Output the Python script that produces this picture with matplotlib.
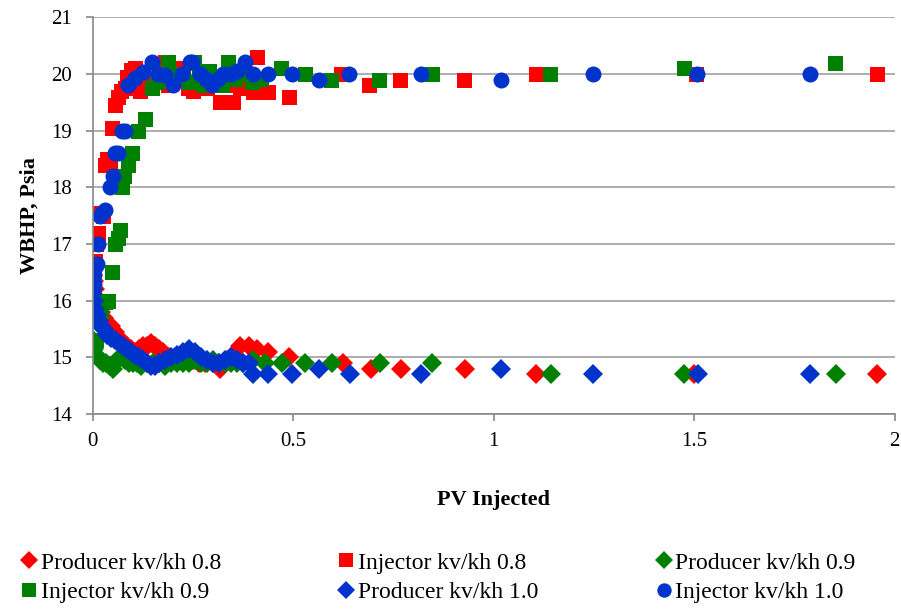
import matplotlib.pyplot as plt
from matplotlib.ticker import FuncFormatter

# PV injected / WBHP (psia)
prod08_x = [0.0, 0.003, 0.006, 0.01, 0.015, 0.02, 0.027, 0.035, 0.045, 0.055, 0.065, 0.075, 0.085, 0.095,
            0.105, 0.115, 0.125, 0.135, 0.145, 0.155, 0.165, 0.175, 0.19, 0.205, 0.22, 0.235, 0.25, 0.265,
            0.28, 0.3, 0.317, 0.335, 0.35, 0.367, 0.39, 0.41, 0.437, 0.49, 0.623, 0.693, 0.768, 0.928,
            1.105, 1.5, 1.955]
prod08_y = [16.45, 16.35, 16.2, 16.05, 15.9, 15.8, 15.7, 15.6, 15.55, 15.45, 15.35, 15.25, 15.2, 15.15,
            15.1, 15.15, 15.2, 15.2, 15.25, 15.2, 15.15, 15.1, 15.0, 15.0, 15.0, 14.95, 14.95, 14.9,
            14.9, 14.9, 14.8, 14.95, 15.05, 15.2, 15.2, 15.15, 15.1, 15.0, 14.9, 14.8, 14.8, 14.8,
            14.7, 14.7, 14.7]

inj08_x = [0.0, 0.002, 0.005, 0.008, 0.012, 0.018, 0.025, 0.03, 0.036, 0.042, 0.047, 0.055, 0.062, 0.07,
           0.08, 0.085, 0.095, 0.105, 0.117, 0.13, 0.15, 0.165, 0.18, 0.187, 0.2, 0.215, 0.237, 0.25,
           0.265, 0.284, 0.3, 0.317, 0.335, 0.349, 0.367, 0.385, 0.4, 0.41, 0.437, 0.49, 0.62, 0.69,
           0.766, 0.925, 1.105, 1.504, 1.955]
inj08_y = [16.4, 16.55, 16.7, 17.0, 17.2, 17.55, 17.5, 18.4, 18.5, 18.45, 19.05, 19.45, 19.6, 19.7,
           19.75, 19.95, 20.07, 20.1, 19.7, 19.8, 19.9, 20.1, 20.2, 19.8, 20.0, 20.1, 19.75, 19.7,
           19.9, 19.75, 19.9, 19.5, 19.8, 19.5, 19.75, 19.9, 19.68, 20.3, 19.68, 19.6, 20.0, 19.8,
           19.89, 19.89, 20.0, 20.0, 20.0]

prod09_x = [0.0, 0.004, 0.008, 0.013, 0.018, 0.025, 0.033, 0.042, 0.05, 0.06, 0.07, 0.08, 0.09, 0.1,
            0.11, 0.12, 0.135, 0.15, 0.165, 0.18, 0.195, 0.21, 0.225, 0.24, 0.255, 0.27, 0.285, 0.3,
            0.315, 0.33, 0.345, 0.36, 0.375, 0.4, 0.43, 0.473, 0.53, 0.597, 0.716, 0.846, 1.142,
            1.474, 1.853]
prod09_y = [15.3, 15.15, 15.05, 15.0, 14.95, 14.9, 14.9, 14.85, 14.8, 14.95, 15.0, 14.95, 14.9, 14.9,
            14.9, 14.85, 14.9, 14.9, 14.9, 14.85, 14.9, 14.9, 14.9, 14.9, 14.95, 14.9, 14.9, 14.95,
            14.9, 14.9, 14.9, 14.9, 14.9, 14.95, 14.9, 14.9, 14.9, 14.9, 14.9, 14.9, 14.7,
            14.7, 14.7]

inj09_x = [0.0, 0.003, 0.008, 0.012, 0.02, 0.03, 0.037, 0.047, 0.055, 0.062, 0.067, 0.072, 0.077, 0.087,
           0.097, 0.112, 0.13, 0.147, 0.16, 0.175, 0.187, 0.197, 0.21, 0.225, 0.24, 0.252, 0.265, 0.275,
           0.29, 0.31, 0.322, 0.337, 0.355, 0.37, 0.385, 0.397, 0.42, 0.47, 0.53, 0.595, 0.713, 0.845,
           1.14, 1.474, 1.85]
inj09_y = [15.15, 15.25, 15.3, 15.75, 15.8, 15.97, 16.0, 16.5, 17.0, 17.1, 17.25, 18.0, 18.2, 18.4,
           18.6, 19.0, 19.2, 19.75, 19.85, 20.0, 20.2, 19.9, 20.0, 19.95, 19.85, 20.2, 20.0, 19.8,
           20.05, 19.95, 19.8, 20.2, 19.9, 20.0, 20.0, 19.85, 19.9, 20.1, 20.0, 19.89, 19.89, 20.0,
           20.0, 20.1, 20.19]

prod10_x = [0.0, 0.003, 0.006, 0.01, 0.015, 0.02, 0.027, 0.035, 0.045, 0.055, 0.065, 0.075, 0.085, 0.095,
            0.105, 0.115, 0.125, 0.135, 0.145, 0.155, 0.165, 0.18, 0.195, 0.21, 0.225, 0.24, 0.255, 0.27,
            0.285, 0.3, 0.315, 0.33, 0.345, 0.36, 0.375, 0.39, 0.40, 0.437, 0.497, 0.564, 0.641, 0.818,
            1.018, 1.247, 1.51, 1.79]
prod10_y = [16.2, 16.0, 15.85, 15.75, 15.65, 15.55, 15.5, 15.4, 15.35, 15.3, 15.25, 15.2, 15.15, 15.1,
            15.05, 15.0, 14.95, 14.9, 14.85, 14.85, 14.9, 14.95, 15.0, 15.05, 15.1, 15.15, 15.1, 15.0,
            14.95, 14.9, 14.9, 14.95, 15.0, 14.95, 14.9, 14.9, 14.7, 14.7, 14.7, 14.8, 14.7, 14.7,
            14.8, 14.7, 14.7, 14.7]

inj10_x = [0.0, 0.002, 0.004, 0.006, 0.01, 0.012, 0.017, 0.022, 0.03, 0.042, 0.05, 0.056, 0.062, 0.072,
           0.08, 0.088, 0.105, 0.125, 0.147, 0.162, 0.18, 0.2, 0.222, 0.242, 0.247, 0.267, 0.282, 0.297,
           0.312, 0.325, 0.345, 0.36, 0.38, 0.4, 0.437, 0.497, 0.563, 0.64, 0.818, 1.017, 1.247, 1.506,
           1.788]
inj10_y = [16.15, 16.3, 16.45, 16.6, 16.65, 17.0, 17.5, 17.55, 17.6, 18.0, 18.2, 18.6, 18.6, 19.0,
           19.0, 19.8, 19.92, 20.03, 20.2, 20.0, 19.98, 19.8, 20.0, 20.2, 20.2, 20.0, 19.9, 19.8,
           19.9, 20.0, 20.0, 20.05, 20.2, 20.0, 20.0, 20.0, 19.89, 20.0, 20.0, 19.89, 20.0, 20.0,
           20.0]

RED, GREEN, BLUE = '#ff0000', '#008000', '#0033cc'

plt.rcParams['font.family'] = 'Liberation Serif'

fig = plt.figure(figsize=(9.01, 6.10), dpi=100)
ax = fig.add_axes([0.103, 0.321, 0.890, 0.651])

h = []
h += ax.plot(prod08_x, prod08_y, 'D', color=RED, ms=10, mew=0, label='Producer kv/kh 0.8')
h += ax.plot(inj08_x, inj08_y, 's', color=RED, ms=10.8, mew=0, label='Injector kv/kh 0.8')
h += ax.plot(prod09_x, prod09_y, 'D', color=GREEN, ms=10, mew=0, label='Producer kv/kh 0.9')
h += ax.plot(inj09_x, inj09_y, 's', color=GREEN, ms=10.8, mew=0, label='Injector kv/kh 0.9')
h += ax.plot(prod10_x, prod10_y, 'D', color=BLUE, ms=10, mew=0, label='Producer kv/kh 1.0')
h += ax.plot(inj10_x, inj10_y, 'o', color=BLUE, ms=11.5, mew=0, label='Injector kv/kh 1.0')

ax.set_xlim(0, 2)
ax.set_ylim(14, 21)
ax.set_xticks([0, 0.5, 1, 1.5, 2])
ax.set_yticks(range(14, 22))
ax.xaxis.set_major_formatter(FuncFormatter(lambda v, p: f'{v:g}'))
ax.grid(axis='y', color='#a0a0a0', lw=1.2)
ax.set_axisbelow(True)
for s in ['top', 'right']:
    ax.spines[s].set_visible(False)
for s in ['left', 'bottom']:
    ax.spines[s].set_color('#888888')
    ax.spines[s].set_linewidth(1.2)
ax.tick_params(labelsize=15, color='#888888', length=5, width=1.2)
ax.tick_params(axis='x', pad=8)
ax.tick_params(axis='y', pad=10)

ax.set_xlabel('PV Injected', fontsize=16, fontweight='bold', labelpad=28)
ax.set_ylabel('WBHP, Psia', fontsize=16, fontweight='bold', labelpad=8)

# row-wise legend order
order = [0, 3, 1, 4, 2, 5]
fig.legend([h[i] for i in order], [h[i].get_label() for i in order], ncol=3, loc='center',
           bbox_to_anchor=(0.487, 0.053), frameon=False, fontsize=17, handlelength=0.6,
           handletextpad=0.2, columnspacing=5.0, labelspacing=0.35, markerscale=0.9)

fig.savefig('out.png', dpi=100)
